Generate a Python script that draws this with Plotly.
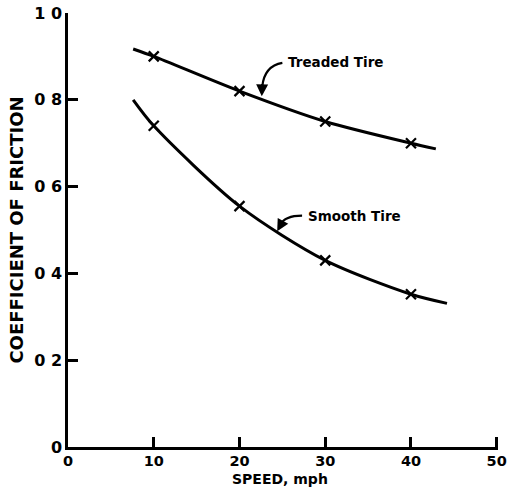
import plotly.graph_objects as go

# Data
speed_pts = [10, 20, 30, 40]
treaded_pts = [0.90, 0.82, 0.75, 0.70]
smooth_pts = [0.74, 0.555, 0.43, 0.352]

# Fitted-curve extents (curve drawn beyond the measured points)
treaded_curve_x = [7.6, 10, 20, 30, 40, 42.9]
treaded_curve_y = [0.917, 0.90, 0.82, 0.75, 0.70, 0.687]
smooth_curve_x = [7.6, 10, 20, 30, 40, 44.2]
smooth_curve_y = [0.80, 0.74, 0.555, 0.43, 0.352, 0.331]

y_tickvals = [0, 0.2, 0.4, 0.6, 0.8, 1.0]
y_ticktext = ["<b>0</b>", "<b>0 2</b>", "<b>0 4</b>", "<b>0 6</b>", "<b>0 8</b>", "<b>1 0</b>"]
x_tickvals = [0, 10, 20, 30, 40, 50]
x_ticktext = ["<b>0</b>", "<b>10</b>", "<b>20</b>", "<b>30</b>", "<b>40</b>", "<b>50</b>"]

FONT = "DejaVu Sans"
INK = "black"

fig = go.Figure()
for cx, cy in [(treaded_curve_x, treaded_curve_y), (smooth_curve_x, smooth_curve_y)]:
    fig.add_trace(go.Scatter(x=cx, y=cy, mode="lines",
                             line=dict(color=INK, width=3, shape="spline", smoothing=0.8),
                             hoverinfo="skip", showlegend=False))
for py in [treaded_pts, smooth_pts]:
    fig.add_trace(go.Scatter(x=speed_pts, y=py, mode="markers",
                             marker=dict(symbol="x-thin", size=10, color=INK,
                                         line=dict(color=INK, width=2.2)),
                             showlegend=False))

# Curved leader lines for the labels
fig.add_shape(type="path", xref="x", yref="y",
              path="M 25.0 0.885 Q 22.9 0.878 22.65 0.83",
              line=dict(color=INK, width=2.2))
fig.add_shape(type="path", xref="x", yref="y",
              path="M 27.3 0.533 Q 25.3 0.533 24.75 0.512",
              line=dict(color=INK, width=2.2))
# arrowheads
fig.add_annotation(x=22.6, y=0.808, ax=22.65, ay=0.84, xref="x", yref="y",
                   axref="x", ayref="y", text="", showarrow=True,
                   arrowhead=2, arrowsize=1.2, arrowwidth=2, arrowcolor=INK)
fig.add_annotation(x=24.4, y=0.497, ax=24.9, ay=0.515, xref="x", yref="y",
                   axref="x", ayref="y", text="", showarrow=True,
                   arrowhead=2, arrowsize=1.2, arrowwidth=2, arrowcolor=INK)

fig.add_annotation(x=25.4, y=0.888, xref="x", yref="y", text="<b>Treaded Tire</b>",
                   showarrow=False, xanchor="left", yanchor="middle",
                   font=dict(family=FONT, size=13.5, color=INK))
fig.add_annotation(x=27.7, y=0.533, xref="x", yref="y", text="<b>Smooth Tire</b>",
                   showarrow=False, xanchor="left", yanchor="middle",
                   font=dict(family=FONT, size=13.5, color=INK))

# x-axis title placed below the tick labels
fig.add_annotation(x=0.493, y=0, xref="paper", yref="paper", text="<b>SPEED, mph</b>",
                   showarrow=False, xanchor="center", yanchor="top", yshift=-23,
                   borderpad=0,
                   font=dict(family=FONT, size=14, color=INK))

fig.update_xaxes(range=[0, 50.15], tickvals=x_tickvals, ticktext=x_ticktext,
                 ticks="inside", ticklen=10, tickwidth=2.5, tickcolor=INK,
                 showline=True, linewidth=2.5, linecolor=INK, showgrid=False,
                 zeroline=False, ticklabeloverflow="allow", automargin=False,
                 ticklabelstandoff=-1,
                 tickfont=dict(family=FONT, size=14.5, color=INK))
fig.update_yaxes(range=[0, 1.0], tickvals=y_tickvals, ticktext=y_ticktext,
                 ticks="inside", ticklen=10, tickwidth=2.5, tickcolor=INK,
                 showline=True, linewidth=2.5, linecolor=INK, showgrid=False,
                 zeroline=False, ticklabeloverflow="allow", automargin=False,
                 tickfont=dict(family=FONT, size=16, color=INK),
                 title=dict(text="<b>COEFFICIENT OF FRICTION</b>", standoff=6,
                            font=dict(family=FONT, size=18, color=INK)))

fig.update_layout(width=507, height=488, plot_bgcolor="white", paper_bgcolor="white",
                  margin=dict(l=68, r=9, t=13, b=41), showlegend=False)

fig.write_html("out.html")
